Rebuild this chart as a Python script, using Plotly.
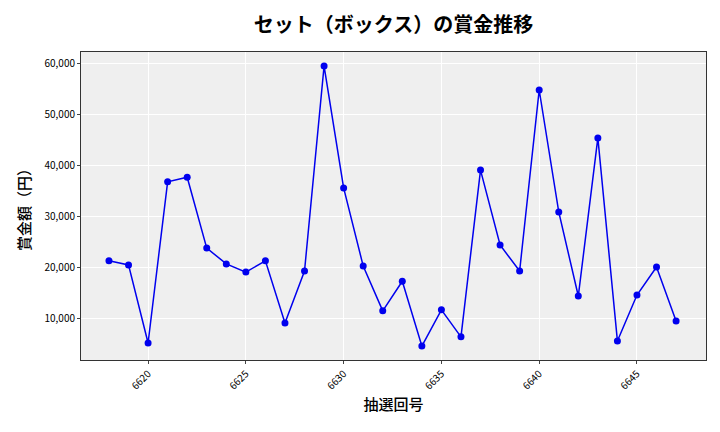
import plotly.graph_objects as go

draws = list(range(6618, 6648))
prizes = [21400, 20600, 5300, 36900, 37800, 23900, 20800, 19200, 21400, 9200,
          19400, 59600, 35700, 20400, 11600, 17400, 4700, 11800, 6500, 39200,
          24500, 19400, 54900, 31000, 14500, 45500, 5700, 14700, 20200, 9600]
x_ticks = [6620, 6625, 6630, 6635, 6640, 6645]
y_ticks = [10000, 20000, 30000, 40000, 50000, 60000]

font = "Noto Sans CJK JP"
fig = go.Figure(go.Scatter(x=draws, y=prizes, mode="lines+markers",
                           line=dict(color="#0000ee", width=1.5),
                           marker=dict(color="#0000ee", size=7)))
fig.update_layout(
    width=720, height=432,
    margin=dict(l=81, r=14, t=52, b=72),
    paper_bgcolor="white", plot_bgcolor="#efefef",
    font=dict(family=font, color="#000"),
    title=dict(text="セット（ボックス）の賞金推移", xref="paper", x=0.5, xanchor="center",
               y=0.942, yanchor="middle", font=dict(size=20, family=font, weight=600)),
    showlegend=False,
)
fig.update_xaxes(range=[6616.57, 6648.53], tickvals=x_ticks, tickangle=-45,
                 tickfont=dict(size=10), showgrid=True, gridcolor="white", gridwidth=1,
                 showline=True, linecolor="#333", linewidth=1, mirror=True,
                 ticks="outside", ticklen=3, zeroline=False,
                 title=dict(text="抽選回号", font=dict(size=15, weight=500), standoff=8))
fig.update_yaxes(range=[1960, 62350], tickvals=y_ticks, tickformat=",",
                 tickfont=dict(size=10), showgrid=True, gridcolor="white", gridwidth=1,
                 showline=True, linecolor="#333", linewidth=1, mirror=True,
                 ticks="outside", ticklen=3, zeroline=False,
                 title=dict(text="賞金額（円）", font=dict(size=15, weight=500), standoff=10))
fig.write_html("out.html")
